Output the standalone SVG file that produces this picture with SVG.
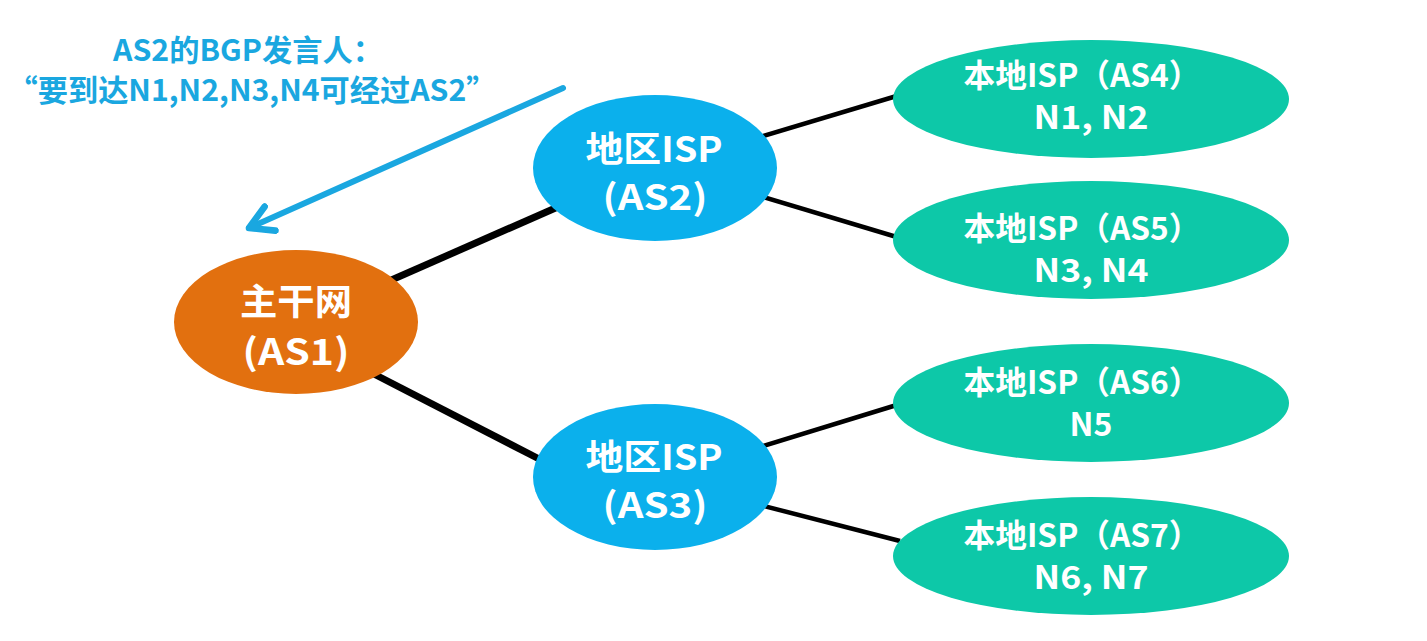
<svg xmlns="http://www.w3.org/2000/svg" width="1427" height="641" viewBox="0 0 1427 641">
<style>
.t{font-family:"Noto Sans CJK SC","Microsoft YaHei",sans-serif;font-weight:bold;fill:#fff;text-anchor:middle}
.big{font-size:36px}
.isp{font-size:35px}
.mid{font-size:32px}
.note{font-family:"Noto Sans CJK SC",sans-serif;font-weight:bold;fill:#1aa7e0;font-size:30px;text-anchor:middle}
.thick{stroke:#000;stroke-width:7;fill:none}
.thin{stroke:#000;stroke-width:4.5;fill:none}
</style>
<defs>
<marker id="ah" viewBox="0 0 10 10" refX="8" refY="5" markerWidth="5.5" markerHeight="5.5" orient="auto" markerUnits="strokeWidth">
<path d="M1,1 L8,5 L1,9" fill="none" stroke="#1aa7e0" stroke-width="2" stroke-linecap="round" stroke-linejoin="round"/>
</marker>
</defs>
<rect width="1427" height="641" fill="#fff"/>
<g id="connectors">
<line class="thick" x1="380" y1="285" x2="560" y2="206"/>
<line class="thick" x1="370" y1="372" x2="545" y2="462"/>
<line class="thin" x1="760" y1="137" x2="900" y2="95"/>
<line class="thin" x1="760" y1="196" x2="900" y2="238"/>
<line class="thin" x1="760" y1="447" x2="900" y2="404"/>
<line class="thin" x1="760" y1="505" x2="900" y2="541"/>
<line x1="563" y1="88" x2="249" y2="228" stroke="#1aa7e0" stroke-width="6" stroke-linecap="round" marker-end="url(#ah)"/>
</g>
<g id="note">
<text class="note" x="248" y="61" textLength="270" lengthAdjust="spacingAndGlyphs">AS2的BGP发言人：</text>
<text class="note" x="252" y="101" textLength="489" lengthAdjust="spacingAndGlyphs">“要到达N1,N2,N3,N4可经过AS2”</text>
</g>
<g id="as1">
<ellipse cx="296" cy="322" rx="122" ry="72" fill="#e2700f"/>
<text class="t big" x="296" y="315" textLength="112" lengthAdjust="spacingAndGlyphs">主干网</text>
<text class="t big" x="296" y="365" textLength="107" lengthAdjust="spacingAndGlyphs">(AS1)</text>
</g>
<g id="as2">
<ellipse cx="655" cy="168" rx="122" ry="73" fill="#0bb0ec"/>
<text class="t isp" x="654" y="162" textLength="137" lengthAdjust="spacingAndGlyphs">地区ISP</text>
<text class="t isp" x="655" y="210" textLength="105" lengthAdjust="spacingAndGlyphs">(AS2)</text>
</g>
<g id="as3">
<ellipse cx="655" cy="477" rx="122" ry="73" fill="#0bb0ec"/>
<text class="t isp" x="654" y="470" textLength="137" lengthAdjust="spacingAndGlyphs">地区ISP</text>
<text class="t isp" x="655" y="518" textLength="105" lengthAdjust="spacingAndGlyphs">(AS3)</text>
</g>
<g id="as4">
<ellipse cx="1091" cy="99" rx="198" ry="59" fill="#0dc8a8"/>
<text class="t mid" x="1082" y="87" textLength="237" lengthAdjust="spacingAndGlyphs">本地ISP（AS4）</text>
<text class="t mid" x="1091" y="129" textLength="115" lengthAdjust="spacingAndGlyphs">N1, N2</text>
</g>
<g id="as5">
<ellipse cx="1091" cy="240" rx="198" ry="59" fill="#0dc8a8"/>
<text class="t mid" x="1082" y="240" textLength="237" lengthAdjust="spacingAndGlyphs">本地ISP（AS5）</text>
<text class="t mid" x="1091" y="282" textLength="115" lengthAdjust="spacingAndGlyphs">N3, N4</text>
</g>
<g id="as6">
<ellipse cx="1091" cy="403" rx="198" ry="59" fill="#0dc8a8"/>
<text class="t mid" x="1082" y="394" textLength="237" lengthAdjust="spacingAndGlyphs">本地ISP（AS6）</text>
<text class="t mid" x="1091" y="436">N5</text>
</g>
<g id="as7">
<ellipse cx="1091" cy="556" rx="198" ry="59" fill="#0dc8a8"/>
<text class="t mid" x="1082" y="547" textLength="237" lengthAdjust="spacingAndGlyphs">本地ISP（AS7）</text>
<text class="t mid" x="1091" y="589" textLength="115" lengthAdjust="spacingAndGlyphs">N6, N7</text>
</g>
</svg>
